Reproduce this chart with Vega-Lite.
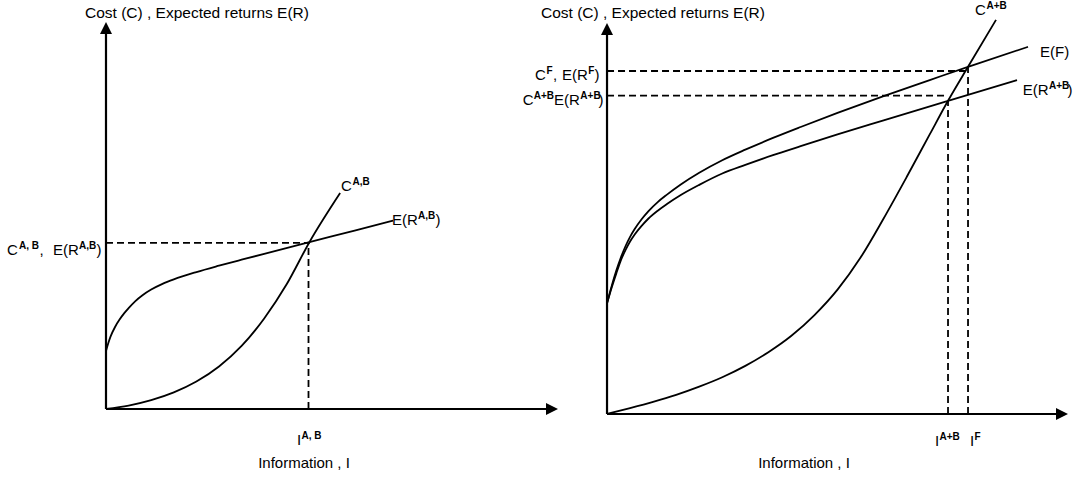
{
  "$schema": "https://vega.github.io/schema/vega-lite/v6.json",
  "padding": 0,
  "spacing": 0,
  "bounds": "flush",
  "config": {"view": {"stroke": null}},
  "datasets": {
    "leftRules": [
      {"kind": "axis", "x": 0, "y": 0, "x2": 0, "y2": 97},
      {"kind": "axis", "x": 0, "y": 0, "x2": 97.4, "y2": 0},
      {"kind": "dash", "x": 0, "y": 42.9, "x2": 45.0, "y2": 42.9},
      {"kind": "dash", "x": 44.8, "y": 0, "x2": 44.8, "y2": 42.9}
    ],
    "leftArrows": [
      {"dir": "up", "x": 0, "y": 98.45},
      {"dir": "right", "x": 98.67, "y": 0}
    ],
    "leftCurves": [
      {"series": "E(R A,B)", "x": 0, "y": 15.0},
      {"series": "E(R A,B)", "x": 0.5, "y": 17.0},
      {"series": "E(R A,B)", "x": 1, "y": 18.7},
      {"series": "E(R A,B)", "x": 2, "y": 21.2},
      {"series": "E(R A,B)", "x": 3, "y": 23.1},
      {"series": "E(R A,B)", "x": 4, "y": 24.7},
      {"series": "E(R A,B)", "x": 5, "y": 26.06},
      {"series": "E(R A,B)", "x": 6.5, "y": 27.89},
      {"series": "E(R A,B)", "x": 8, "y": 29.34},
      {"series": "E(R A,B)", "x": 10, "y": 30.86},
      {"series": "E(R A,B)", "x": 12.5, "y": 32.33},
      {"series": "E(R A,B)", "x": 15, "y": 33.5},
      {"series": "E(R A,B)", "x": 20, "y": 35.39},
      {"series": "E(R A,B)", "x": 25, "y": 37.03},
      {"series": "E(R A,B)", "x": 30, "y": 38.58},
      {"series": "E(R A,B)", "x": 35, "y": 40.1},
      {"series": "E(R A,B)", "x": 45, "y": 43.1},
      {"series": "E(R A,B)", "x": 55, "y": 46.1},
      {"series": "E(R A,B)", "x": 63.5, "y": 48.65},
      {"series": "C A,B", "x": 0, "y": 0},
      {"series": "C A,B", "x": 5, "y": 0.9},
      {"series": "C A,B", "x": 10, "y": 2.3},
      {"series": "C A,B", "x": 15, "y": 4.3},
      {"series": "C A,B", "x": 20, "y": 7.1},
      {"series": "C A,B", "x": 25, "y": 11.0},
      {"series": "C A,B", "x": 30, "y": 16.3},
      {"series": "C A,B", "x": 35, "y": 23.4},
      {"series": "C A,B", "x": 40, "y": 32.3},
      {"series": "C A,B", "x": 45, "y": 43.1},
      {"series": "C A,B", "x": 51.8, "y": 55.8}
    ],
    "leftLabels": [
      {"role": "title", "text": "Cost (C) , Expected returns E(R)", "x": -4.65, "y": 101.03},
      {"role": "main", "text": "C", "x": -21.9, "y": 39.79},
      {"role": "sup", "text": "A, B", "x": -19.25, "y": 39.79},
      {"role": "main", "text": ",", "x": -14.71, "y": 39.79},
      {"role": "main", "text": "E(R", "x": -11.73, "y": 39.79},
      {"role": "sup", "text": "A,B", "x": -5.97, "y": 39.79},
      {"role": "main", "text": ")", "x": -2.1, "y": 39.79},
      {"role": "main", "text": "C", "x": 51.99, "y": 56.33},
      {"role": "sup", "text": "A,B", "x": 54.53, "y": 56.33},
      {"role": "main", "text": "E(R", "x": 63.27, "y": 47.55},
      {"role": "sup", "text": "A,B", "x": 69.03, "y": 47.55},
      {"role": "main", "text": ")", "x": 72.9, "y": 47.55},
      {"role": "main", "text": "I", "x": 42.26, "y": -9.3},
      {"role": "sup", "text": "A, B", "x": 43.25, "y": -9.3},
      {"role": "center", "text": "Information , I", "x": 43.81, "y": -15.25}
    ],
    "rightRules": [
      {"kind": "axis", "x": 0, "y": 0, "x2": 0, "y2": 97},
      {"kind": "axis", "x": 0, "y": 0, "x2": 97.4, "y2": 0},
      {"kind": "dash", "x": 0, "y": 87.72, "x2": 78.31, "y2": 87.72},
      {"kind": "dash", "x": 78.31, "y": 0, "x2": 78.31, "y2": 88.8},
      {"kind": "dash", "x": 0, "y": 81.41, "x2": 73.97, "y2": 81.41},
      {"kind": "dash", "x": 73.97, "y": 0, "x2": 73.97, "y2": 80.1}
    ],
    "rightArrows": [
      {"dir": "up", "x": 0, "y": 98.47},
      {"dir": "right", "x": 98.7, "y": 0}
    ],
    "rightCurves": [
      {"series": "C A+B", "x": 0, "y": 0},
      {"series": "C A+B", "x": 5, "y": 1.5},
      {"series": "C A+B", "x": 10, "y": 3.1},
      {"series": "C A+B", "x": 15, "y": 4.9},
      {"series": "C A+B", "x": 20, "y": 7.0},
      {"series": "C A+B", "x": 25, "y": 9.4},
      {"series": "C A+B", "x": 30, "y": 12.3},
      {"series": "C A+B", "x": 35, "y": 15.8},
      {"series": "C A+B", "x": 40, "y": 20.0},
      {"series": "C A+B", "x": 45, "y": 25.3},
      {"series": "C A+B", "x": 50, "y": 31.8},
      {"series": "C A+B", "x": 55, "y": 40.0},
      {"series": "C A+B", "x": 60, "y": 50.0},
      {"series": "C A+B", "x": 65, "y": 60.6},
      {"series": "C A+B", "x": 70, "y": 71.5},
      {"series": "C A+B", "x": 73.97, "y": 80.1},
      {"series": "C A+B", "x": 78.31, "y": 88.8},
      {"series": "C A+B", "x": 84.38, "y": 100.8},
      {"series": "E(F)", "x": 0, "y": 28.31},
      {"series": "E(F)", "x": 1, "y": 32.7},
      {"series": "E(F)", "x": 2, "y": 36.6},
      {"series": "E(F)", "x": 3, "y": 40.0},
      {"series": "E(F)", "x": 4, "y": 42.9},
      {"series": "E(F)", "x": 5, "y": 45.3},
      {"series": "E(F)", "x": 6, "y": 47.3},
      {"series": "E(F)", "x": 7.5, "y": 49.8},
      {"series": "E(F)", "x": 9, "y": 51.9},
      {"series": "E(F)", "x": 11, "y": 54.2},
      {"series": "E(F)", "x": 13, "y": 56.1},
      {"series": "E(F)", "x": 16, "y": 58.7},
      {"series": "E(F)", "x": 20, "y": 61.7},
      {"series": "E(F)", "x": 25, "y": 64.9},
      {"series": "E(F)", "x": 30, "y": 67.6},
      {"series": "E(F)", "x": 36, "y": 70.6},
      {"series": "E(F)", "x": 42, "y": 73.4},
      {"series": "E(F)", "x": 50, "y": 77.0},
      {"series": "E(F)", "x": 60, "y": 81.3},
      {"series": "E(F)", "x": 70, "y": 85.4},
      {"series": "E(F)", "x": 78.31, "y": 88.8},
      {"series": "E(F)", "x": 91.32, "y": 93.9},
      {"series": "E(R A+B)", "x": 0, "y": 28.31},
      {"series": "E(R A+B)", "x": 1, "y": 32.3},
      {"series": "E(R A+B)", "x": 2, "y": 35.9},
      {"series": "E(R A+B)", "x": 3, "y": 39.3},
      {"series": "E(R A+B)", "x": 4, "y": 41.9},
      {"series": "E(R A+B)", "x": 5, "y": 44.1},
      {"series": "E(R A+B)", "x": 6, "y": 45.9},
      {"series": "E(R A+B)", "x": 7.5, "y": 48.1},
      {"series": "E(R A+B)", "x": 9, "y": 50.0},
      {"series": "E(R A+B)", "x": 11, "y": 52.0},
      {"series": "E(R A+B)", "x": 13, "y": 53.7},
      {"series": "E(R A+B)", "x": 16, "y": 56.0},
      {"series": "E(R A+B)", "x": 20, "y": 58.6},
      {"series": "E(R A+B)", "x": 25, "y": 61.5},
      {"series": "E(R A+B)", "x": 30, "y": 63.7},
      {"series": "E(R A+B)", "x": 36, "y": 66.2},
      {"series": "E(R A+B)", "x": 42, "y": 68.5},
      {"series": "E(R A+B)", "x": 50, "y": 71.5},
      {"series": "E(R A+B)", "x": 60, "y": 75.1},
      {"series": "E(R A+B)", "x": 73.97, "y": 80.1},
      {"series": "E(R A+B)", "x": 88.94, "y": 85.4}
    ],
    "rightLabels": [
      {"role": "title", "text": "Cost (C) , Expected returns E(R)", "x": -14.32, "y": 101.28},
      {"role": "main", "text": "C", "x": -15.62, "y": 85.42},
      {"role": "sup", "text": "F", "x": -13.12, "y": 85.42},
      {"role": "main", "text": ",", "x": -11.71, "y": 85.42},
      {"role": "main", "text": "E(R", "x": -9.76, "y": 85.42},
      {"role": "sup", "text": "F", "x": -4.06, "y": 85.42},
      {"role": "main", "text": ")", "x": -2.71, "y": 85.42},
      {"role": "main", "text": "C", "x": -18.3, "y": 79.03},
      {"role": "sup", "text": "A+B", "x": -15.9, "y": 79.03},
      {"role": "main", "text": "E(R", "x": -11.5, "y": 79.03},
      {"role": "sup", "text": "A+B", "x": -5.79, "y": 79.03},
      {"role": "main", "text": ")", "x": -1.84, "y": 79.03},
      {"role": "main", "text": "C", "x": 79.83, "y": 102.05},
      {"role": "sup", "text": "A+B", "x": 82.32, "y": 102.05},
      {"role": "main", "text": "E(F)", "x": 93.93, "y": 91.38},
      {"role": "main", "text": "E(R", "x": 90.17, "y": 81.59},
      {"role": "sup", "text": "A+B", "x": 95.88, "y": 81.59},
      {"role": "main", "text": ")", "x": 99.89, "y": 81.59},
      {"role": "main", "text": "I", "x": 71.15, "y": -8.18},
      {"role": "sup", "text": "A+B", "x": 72.13, "y": -8.18},
      {"role": "main", "text": "I", "x": 78.74, "y": -8.18},
      {"role": "sup", "text": "F", "x": 79.72, "y": -8.18},
      {"role": "center", "text": "Information , I", "x": 42.73, "y": -13.81}
    ]
  },
  "hconcat": [
    {
      "width": 560,
      "height": 488,
      "layer": [
        {
          "data": {"name": "leftRules"},
          "transform": [{"filter": "datum.kind == 'axis'"}],
          "mark": {"type": "rule", "strokeWidth": 2.2, "color": "black"},
          "encoding": {
            "x": {"field": "x", "type": "quantitative", "scale": {"domain": [-23.45, 100.44], "nice": false, "zero": false}, "axis": null},
            "y": {"field": "y", "type": "quantitative", "scale": {"domain": [-20.41, 105.68], "nice": false, "zero": false}, "axis": null},
            "x2": {"field": "x2"},
            "y2": {"field": "y2"}
          }
        },
        {
          "data": {"name": "leftRules"},
          "transform": [{"filter": "datum.kind == 'dash'"}],
          "mark": {"type": "rule", "strokeWidth": 1.8, "strokeDash": [7, 4], "color": "black"},
          "encoding": {
            "x": {"field": "x", "type": "quantitative", "scale": {"domain": [-23.45, 100.44], "nice": false, "zero": false}, "axis": null},
            "y": {"field": "y", "type": "quantitative", "scale": {"domain": [-20.41, 105.68], "nice": false, "zero": false}, "axis": null},
            "x2": {"field": "x2"},
            "y2": {"field": "y2"}
          }
        },
        {
          "data": {"name": "leftCurves"},
          "mark": {"type": "line", "interpolate": "monotone", "strokeWidth": 1.8, "color": "black"},
          "encoding": {
            "x": {"field": "x", "type": "quantitative", "scale": {"domain": [-23.45, 100.44], "nice": false, "zero": false}, "axis": null},
            "y": {"field": "y", "type": "quantitative", "scale": {"domain": [-20.41, 105.68], "nice": false, "zero": false}, "axis": null},
            "detail": {"field": "series", "type": "nominal"}
          }
        },
        {
          "data": {"name": "leftArrows"},
          "transform": [{"filter": "datum.dir == 'up'"}],
          "mark": {"type": "point", "shape": "M0,-1L-1,1L1,1Z", "size": 144, "filled": true, "color": "black", "opacity": 1},
          "encoding": {
            "x": {"field": "x", "type": "quantitative", "scale": {"domain": [-23.45, 100.44], "nice": false, "zero": false}, "axis": null},
            "y": {"field": "y", "type": "quantitative", "scale": {"domain": [-20.41, 105.68], "nice": false, "zero": false}, "axis": null}
          }
        },
        {
          "data": {"name": "leftArrows"},
          "transform": [{"filter": "datum.dir == 'right'"}],
          "mark": {"type": "point", "shape": "M1,0L-1,-1L-1,1Z", "size": 144, "filled": true, "color": "black", "opacity": 1},
          "encoding": {
            "x": {"field": "x", "type": "quantitative", "scale": {"domain": [-23.45, 100.44], "nice": false, "zero": false}, "axis": null},
            "y": {"field": "y", "type": "quantitative", "scale": {"domain": [-20.41, 105.68], "nice": false, "zero": false}, "axis": null}
          }
        },
        {
          "data": {"name": "leftLabels"},
          "transform": [{"filter": "datum.role == 'title'"}],
          "mark": {"type": "text", "align": "left", "baseline": "alphabetic", "font": "Liberation Sans", "fontSize": 15.5, "fill": "black"},
          "encoding": {
            "x": {"field": "x", "type": "quantitative", "scale": {"domain": [-23.45, 100.44], "nice": false, "zero": false}, "axis": null},
            "y": {"field": "y", "type": "quantitative", "scale": {"domain": [-20.41, 105.68], "nice": false, "zero": false}, "axis": null},
            "text": {"field": "text"}
          }
        },
        {
          "data": {"name": "leftLabels"},
          "transform": [{"filter": "datum.role == 'main'"}],
          "mark": {"type": "text", "align": "left", "baseline": "alphabetic", "font": "Liberation Sans", "fontSize": 15, "fill": "black"},
          "encoding": {
            "x": {"field": "x", "type": "quantitative", "scale": {"domain": [-23.45, 100.44], "nice": false, "zero": false}, "axis": null},
            "y": {"field": "y", "type": "quantitative", "scale": {"domain": [-20.41, 105.68], "nice": false, "zero": false}, "axis": null},
            "text": {"field": "text"}
          }
        },
        {
          "data": {"name": "leftLabels"},
          "transform": [{"filter": "datum.role == 'sup'"}],
          "mark": {"type": "text", "align": "left", "baseline": "alphabetic", "font": "Liberation Sans", "fontSize": 10, "fontWeight": "bold", "dy": -6, "fill": "black"},
          "encoding": {
            "x": {"field": "x", "type": "quantitative", "scale": {"domain": [-23.45, 100.44], "nice": false, "zero": false}, "axis": null},
            "y": {"field": "y", "type": "quantitative", "scale": {"domain": [-20.41, 105.68], "nice": false, "zero": false}, "axis": null},
            "text": {"field": "text"}
          }
        },
        {
          "data": {"name": "leftLabels"},
          "transform": [{"filter": "datum.role == 'center'"}],
          "mark": {"type": "text", "align": "center", "baseline": "alphabetic", "font": "Liberation Sans", "fontSize": 15, "fill": "black"},
          "encoding": {
            "x": {"field": "x", "type": "quantitative", "scale": {"domain": [-23.45, 100.44], "nice": false, "zero": false}, "axis": null},
            "y": {"field": "y", "type": "quantitative", "scale": {"domain": [-20.41, 105.68], "nice": false, "zero": false}, "axis": null},
            "text": {"field": "text"}
          }
        }
      ]
    },
    {
      "width": 520,
      "height": 488,
      "layer": [
        {
          "data": {"name": "rightRules"},
          "transform": [{"filter": "datum.kind == 'axis'"}],
          "mark": {"type": "rule", "strokeWidth": 2.2, "color": "black"},
          "encoding": {
            "x": {"field": "x", "type": "quantitative", "scale": {"domain": [-10.2, 102.6], "nice": false, "zero": false}, "axis": null},
            "y": {"field": "y", "type": "quantitative", "scale": {"domain": [-18.93, 105.88], "nice": false, "zero": false}, "axis": null},
            "x2": {"field": "x2"},
            "y2": {"field": "y2"}
          }
        },
        {
          "data": {"name": "rightRules"},
          "transform": [{"filter": "datum.kind == 'dash'"}],
          "mark": {"type": "rule", "strokeWidth": 1.8, "strokeDash": [7, 4], "color": "black"},
          "encoding": {
            "x": {"field": "x", "type": "quantitative", "scale": {"domain": [-10.2, 102.6], "nice": false, "zero": false}, "axis": null},
            "y": {"field": "y", "type": "quantitative", "scale": {"domain": [-18.93, 105.88], "nice": false, "zero": false}, "axis": null},
            "x2": {"field": "x2"},
            "y2": {"field": "y2"}
          }
        },
        {
          "data": {"name": "rightCurves"},
          "mark": {"type": "line", "interpolate": "monotone", "strokeWidth": 1.8, "color": "black"},
          "encoding": {
            "x": {"field": "x", "type": "quantitative", "scale": {"domain": [-10.2, 102.6], "nice": false, "zero": false}, "axis": null},
            "y": {"field": "y", "type": "quantitative", "scale": {"domain": [-18.93, 105.88], "nice": false, "zero": false}, "axis": null},
            "detail": {"field": "series", "type": "nominal"}
          }
        },
        {
          "data": {"name": "rightArrows"},
          "transform": [{"filter": "datum.dir == 'up'"}],
          "mark": {"type": "point", "shape": "M0,-1L-1,1L1,1Z", "size": 144, "filled": true, "color": "black", "opacity": 1},
          "encoding": {
            "x": {"field": "x", "type": "quantitative", "scale": {"domain": [-10.2, 102.6], "nice": false, "zero": false}, "axis": null},
            "y": {"field": "y", "type": "quantitative", "scale": {"domain": [-18.93, 105.88], "nice": false, "zero": false}, "axis": null}
          }
        },
        {
          "data": {"name": "rightArrows"},
          "transform": [{"filter": "datum.dir == 'right'"}],
          "mark": {"type": "point", "shape": "M1,0L-1,-1L-1,1Z", "size": 144, "filled": true, "color": "black", "opacity": 1},
          "encoding": {
            "x": {"field": "x", "type": "quantitative", "scale": {"domain": [-10.2, 102.6], "nice": false, "zero": false}, "axis": null},
            "y": {"field": "y", "type": "quantitative", "scale": {"domain": [-18.93, 105.88], "nice": false, "zero": false}, "axis": null}
          }
        },
        {
          "data": {"name": "rightLabels"},
          "transform": [{"filter": "datum.role == 'title'"}],
          "mark": {"type": "text", "align": "left", "baseline": "alphabetic", "font": "Liberation Sans", "fontSize": 15.5, "fill": "black"},
          "encoding": {
            "x": {"field": "x", "type": "quantitative", "scale": {"domain": [-10.2, 102.6], "nice": false, "zero": false}, "axis": null},
            "y": {"field": "y", "type": "quantitative", "scale": {"domain": [-18.93, 105.88], "nice": false, "zero": false}, "axis": null},
            "text": {"field": "text"}
          }
        },
        {
          "data": {"name": "rightLabels"},
          "transform": [{"filter": "datum.role == 'main'"}],
          "mark": {"type": "text", "align": "left", "baseline": "alphabetic", "font": "Liberation Sans", "fontSize": 15, "fill": "black"},
          "encoding": {
            "x": {"field": "x", "type": "quantitative", "scale": {"domain": [-10.2, 102.6], "nice": false, "zero": false}, "axis": null},
            "y": {"field": "y", "type": "quantitative", "scale": {"domain": [-18.93, 105.88], "nice": false, "zero": false}, "axis": null},
            "text": {"field": "text"}
          }
        },
        {
          "data": {"name": "rightLabels"},
          "transform": [{"filter": "datum.role == 'sup'"}],
          "mark": {"type": "text", "align": "left", "baseline": "alphabetic", "font": "Liberation Sans", "fontSize": 10, "fontWeight": "bold", "dy": -6, "fill": "black"},
          "encoding": {
            "x": {"field": "x", "type": "quantitative", "scale": {"domain": [-10.2, 102.6], "nice": false, "zero": false}, "axis": null},
            "y": {"field": "y", "type": "quantitative", "scale": {"domain": [-18.93, 105.88], "nice": false, "zero": false}, "axis": null},
            "text": {"field": "text"}
          }
        },
        {
          "data": {"name": "rightLabels"},
          "transform": [{"filter": "datum.role == 'center'"}],
          "mark": {"type": "text", "align": "center", "baseline": "alphabetic", "font": "Liberation Sans", "fontSize": 15, "fill": "black"},
          "encoding": {
            "x": {"field": "x", "type": "quantitative", "scale": {"domain": [-10.2, 102.6], "nice": false, "zero": false}, "axis": null},
            "y": {"field": "y", "type": "quantitative", "scale": {"domain": [-18.93, 105.88], "nice": false, "zero": false}, "axis": null},
            "text": {"field": "text"}
          }
        }
      ]
    }
  ]
}
